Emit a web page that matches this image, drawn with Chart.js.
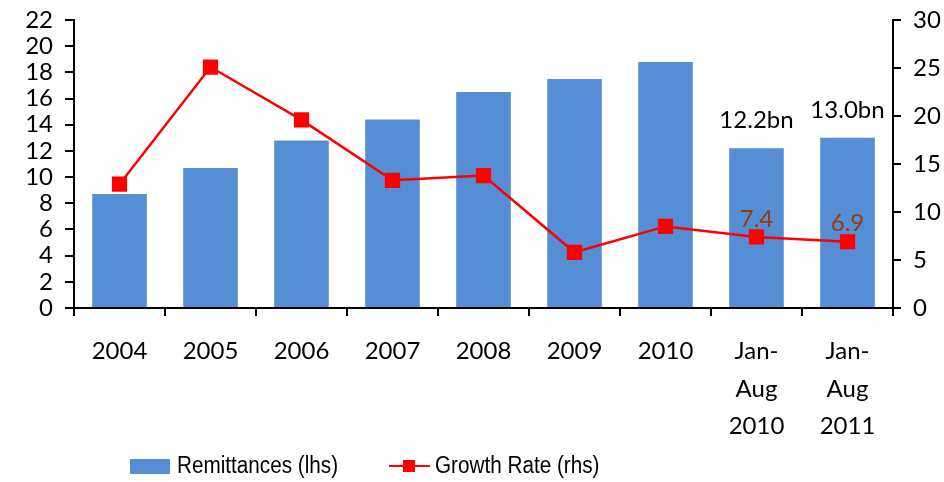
<!DOCTYPE html>
<html lang="en">
<head>
    <meta charset="UTF-8">
    <title>Remittances and Growth Rate</title>
    <script src="https://cdn.jsdelivr.net/npm/chart.js"></script>
    <style>
        html, body { margin: 0; padding: 0; background: #fff; }
        #wrap { width: 944px; height: 482px; }
    </style>
</head>
<body>
    <div id="wrap"><canvas id="myChart"></canvas></div>

    <script>
        // categories and series
        var periods = ['2004', '2005', '2006', '2007', '2008', '2009', '2010', ['Jan-', 'Aug', '2010'], ['Jan-', 'Aug', '2011']];
        var remittances = [8.7, 10.7, 12.8, 14.4, 16.5, 17.5, 18.8, 12.2, 13.0];
        var growthRate = [12.9, 25.1, 19.6, 13.3, 13.8, 5.8, 8.5, 7.4, 6.9];
        // which points carry a value label
        var barLabelIdx = [7, 8];
        var lineLabelIdx = [7, 8];

        var tickFont = { family: 'Lato, "Open Sans", sans-serif', size: 24 };

        // data labels over the last two periods
        var valueLabels = {
            id: 'valueLabels',
            afterDatasetsDraw: function (chart) {
                var ctx = chart.ctx;
                var bars = chart.getDatasetMeta(0).data;
                var pts = chart.getDatasetMeta(1).data;
                ctx.save();
                ctx.font = '24px Lato, sans-serif';
                ctx.textAlign = 'center';
                ctx.textBaseline = 'bottom';
                barLabelIdx.forEach(function (i) {
                    ctx.fillStyle = '#000';
                    ctx.fillText(remittances[i].toFixed(1) + 'bn', bars[i].x, bars[i].y - 16);
                });
                lineLabelIdx.forEach(function (i) {
                    ctx.fillStyle = '#9A3B0B';
                    ctx.fillText(growthRate[i].toFixed(1), pts[i].x, pts[i].y - 6);
                });
                ctx.restore();
            }
        };

        // legend drawn below the axis
        function narrowText(ctx, text, x, y) {
            ctx.save();
            ctx.translate(x, y);
            ctx.scale(0.9, 1);
            ctx.fillText(text, 0, 0);
            ctx.restore();
        }

        var bottomLegend = {
            id: 'bottomLegend',
            afterDraw: function (chart) {
                var ctx = chart.ctx;
                var ds = chart.data.datasets;
                var y = 466;
                ctx.save();
                ctx.font = '23px "Liberation Sans", Arial, sans-serif';
                ctx.textBaseline = 'middle';
                ctx.fillStyle = ds[0].backgroundColor;
                ctx.fillRect(130, y - 7, 40, 15);
                ctx.fillStyle = '#000';
                narrowText(ctx, ds[0].label, 177, y + 1);

                ctx.strokeStyle = ds[1].borderColor;
                ctx.lineWidth = 2;
                ctx.beginPath();
                ctx.moveTo(389, y);
                ctx.lineTo(430, y);
                ctx.stroke();
                ctx.fillStyle = ds[1].pointBackgroundColor;
                ctx.fillRect(403, y - 6, 12, 12);
                ctx.fillStyle = '#000';
                narrowText(ctx, ds[1].label, 435, y + 1);
                ctx.restore();
            }
        };

        function fitY(width) {
            return function (scale) {
                scale.width = width;
                scale.paddingTop = 0;
                scale.paddingBottom = 0;
            };
        }

        document.addEventListener('DOMContentLoaded', function () {
            var ctx = document.getElementById('myChart').getContext('2d');
            new Chart(ctx, {
                data: {
                    labels: periods,
                    datasets: [{
                        type: 'bar',
                        label: 'Remittances (lhs)',
                        data: remittances,
                        backgroundColor: '#558ED5',
                        categoryPercentage: 1,
                        barPercentage: 0.6,
                        yAxisID: 'y',
                        order: 2
                    }, {
                        type: 'line',
                        label: 'Growth Rate (rhs)',
                        data: growthRate,
                        borderColor: '#FF0000',
                        borderWidth: 2.5,
                        pointStyle: 'rect',
                        pointRadius: 9,
                        pointBackgroundColor: '#FF0000',
                        pointBorderColor: '#FF0000',
                        tension: 0,
                        yAxisID: 'y1',
                        order: 1
                    }]
                },
                options: {
                    responsive: true,
                    maintainAspectRatio: false,
                    animation: false,
                    layout: { padding: { top: 20, left: 0, right: 0, bottom: 0 } },
                    plugins: {
                        legend: { display: false },
                        tooltip: { enabled: false }
                    },
                    scales: {
                        x: {
                            offset: true,
                            grid: { offset: true, drawOnChartArea: false, drawTicks: true, tickLength: 8, color: '#000', lineWidth: 2 },
                            border: { display: true, color: '#000', width: 2 },
                            ticks: { color: '#000', font: Object.assign({ lineHeight: 1.55 }, tickFont), padding: 17, maxRotation: 0, autoSkip: false },
                            afterFit: function (scale) { scale.height = 174; }
                        },
                        y: {
                            position: 'left',
                            min: 0,
                            max: 22,
                            ticks: { stepSize: 2, color: '#000', font: tickFont, padding: 12, autoSkip: false },
                            grid: { drawOnChartArea: false, drawTicks: true, tickLength: 9, color: '#000', lineWidth: 2 },
                            border: { display: true, color: '#000', width: 2 },
                            afterFit: fitY(74)
                        },
                        y1: {
                            position: 'right',
                            min: 0,
                            max: 30,
                            ticks: { stepSize: 5, color: '#000', font: tickFont, padding: 12, autoSkip: false },
                            grid: { drawOnChartArea: false, drawTicks: true, tickLength: 8, color: '#000', lineWidth: 2 },
                            border: { display: true, color: '#000', width: 2 },
                            afterFit: fitY(51)
                        }
                    }
                },
                plugins: [valueLabels, bottomLegend]
            });
        });
    </script>
</body>
</html>
